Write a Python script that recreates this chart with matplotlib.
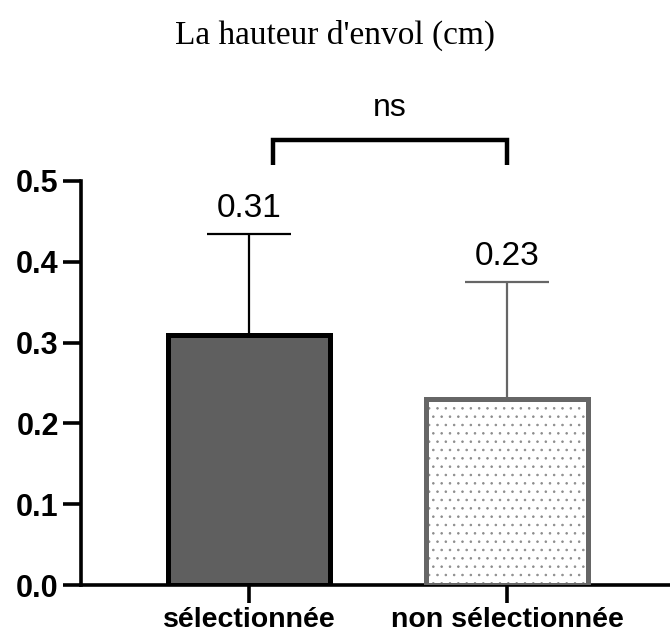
import numpy as np
import matplotlib.pyplot as plt

groupes = ['sélectionnée', 'non sélectionnée']
moyennes = [0.31, 0.23]
ecarts = [0.125, 0.145]
etiquettes = ['0.31', '0.23']
titre = "La hauteur d'envol (cm)"

plt.rcParams['font.family'] = ['Liberation Sans', 'DejaVu Sans']
plt.rcParams['hatch.linewidth'] = 0.6

fig = plt.figure(figsize=(6.7, 6.35), dpi=100)
ax = fig.add_axes([0.1209, 0.0787, 0.8791, 0.6363])

x = np.arange(len(groupes))
w = 0.63

# barre pleine
ax.bar(x[0], moyennes[0], width=w, color='#5f5f5f', edgecolor='black',
       linewidth=3.6, zorder=2)
ax.errorbar(x[0], moyennes[0], yerr=[[0], [ecarts[0]]], fmt='none',
            ecolor='black', elinewidth=1.6, capsize=30, capthick=1.6, zorder=1)

# barre pointillée
ax.bar(x[1], moyennes[1], width=w, color='white', edgecolor='#8c8c8c',
       hatch='..', linewidth=0, zorder=2)
ax.bar(x[1], moyennes[1], width=w, fill=False, edgecolor='#666666',
       linewidth=3.6, zorder=3)
ax.errorbar(x[1], moyennes[1], yerr=[[0], [ecarts[1]]], fmt='none',
            ecolor='#666666', elinewidth=1.6, capsize=30, capthick=1.6, zorder=1)

for xi, m, e, t in zip(x, moyennes, ecarts, etiquettes):
    ax.annotate(t, (xi, m + e), xytext=(0, 7), textcoords='offset points',
                ha='center', va='bottom', fontsize=24)

# crochet de significativité
ax.plot([0.093, 0.093, 1.0, 1.0], [0.52, 0.551, 0.551, 0.52], color='black',
        lw=3.2, clip_on=False, solid_capstyle='butt', solid_joinstyle='miter')
ax.text(0.547, 0.572, 'ns', ha='center', va='bottom', fontsize=23)

ax.set_xlim(-0.651, 1.632)
ax.set_ylim(0, 0.5)
ax.set_yticks([0.0, 0.1, 0.2, 0.3, 0.4, 0.5])
ax.set_yticklabels(['0.0', '0.1', '0.2', '0.3', '0.4', '0.5'])
ax.set_xticks(x)
ax.set_xticklabels(groupes)

for s in ['top', 'right']:
    ax.spines[s].set_visible(False)
for s in ['left', 'bottom']:
    ax.spines[s].set_linewidth(2.6)
ax.tick_params(axis='both', length=13, width=2.6)
ax.tick_params(axis='y', pad=3, labelsize=22)
ax.tick_params(axis='x', pad=3, labelsize=20.5)
for lab in ax.get_xticklabels() + ax.get_yticklabels():
    lab.set_fontweight('bold')

fig.text(0.5, 0.945, titre, ha='center', va='center', fontsize=24,
         family='Liberation Serif')

fig.savefig('out.png', dpi=100)
